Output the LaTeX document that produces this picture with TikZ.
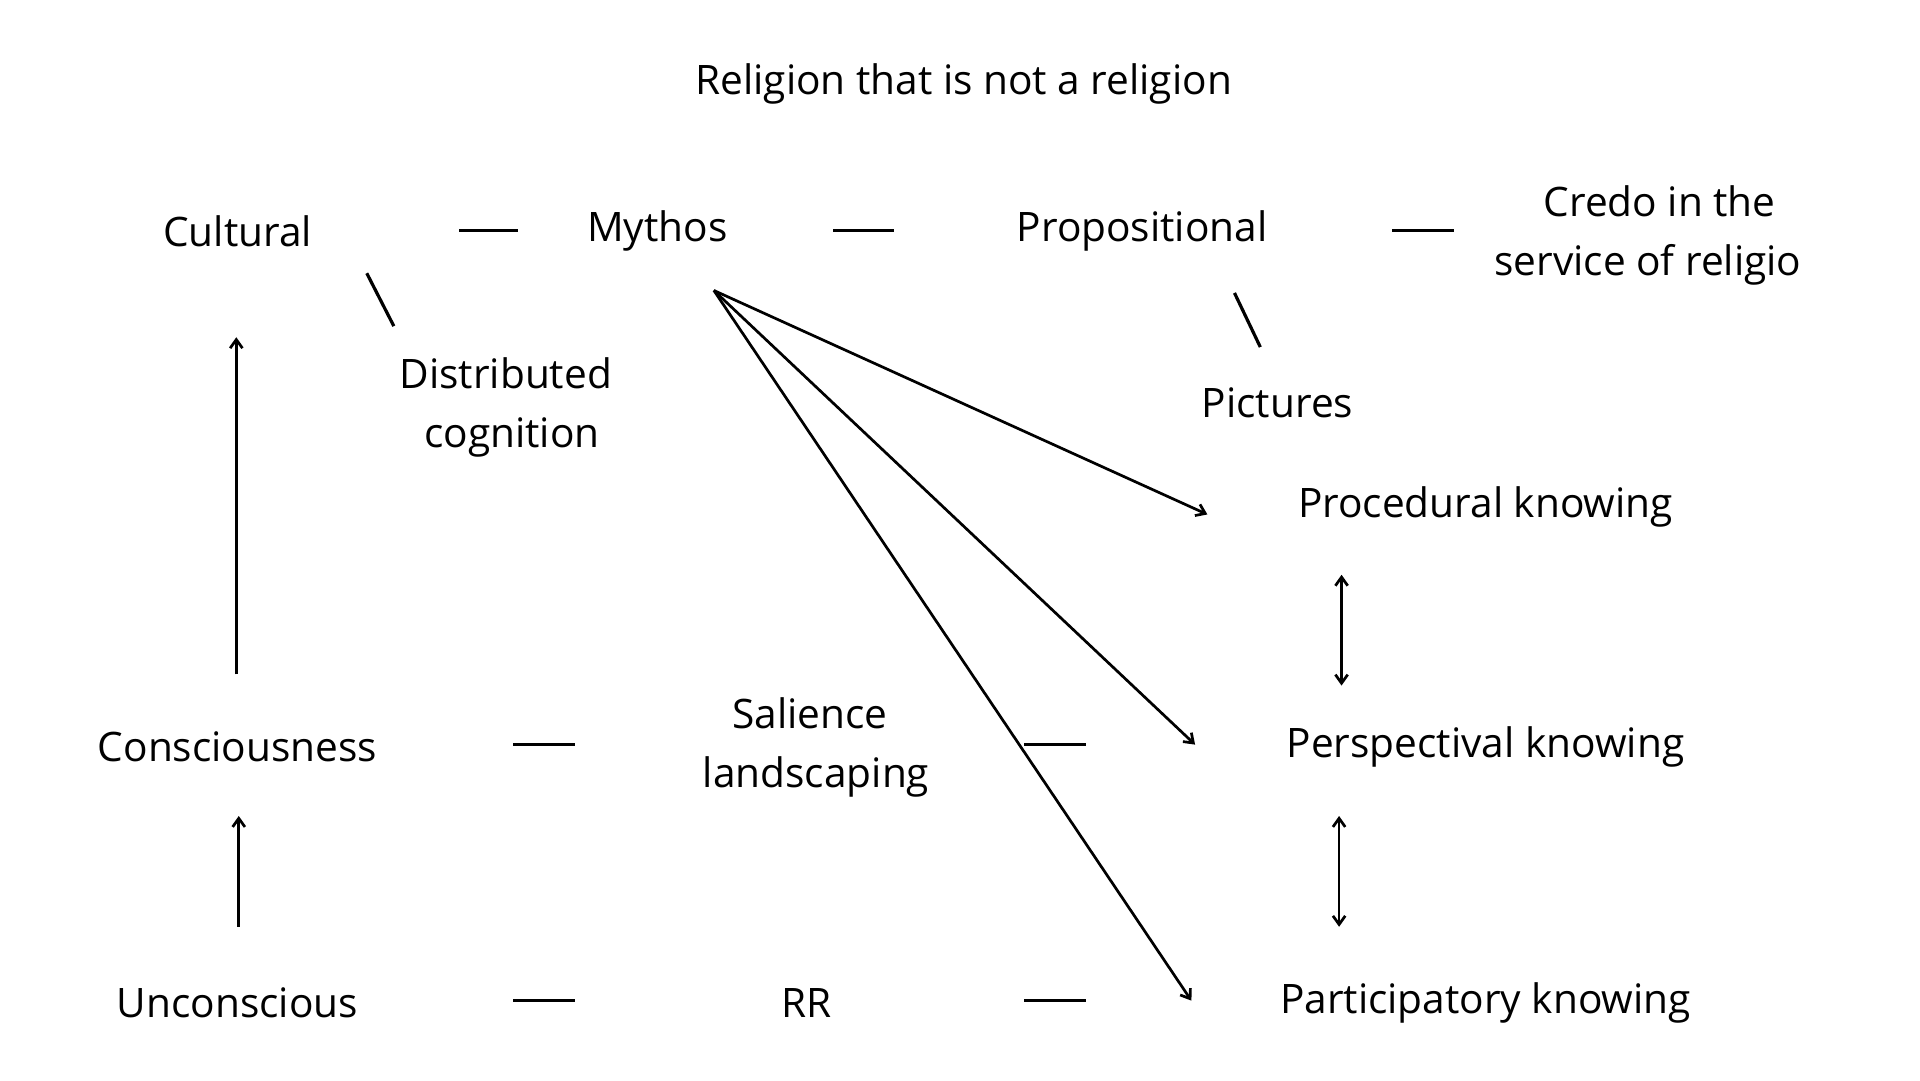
\documentclass[tikz,border=0pt]{standalone}
\usepackage{fontspec}
\setmainfont{Open Sans}
\usetikzlibrary{arrows.meta}
\begin{document}
\begin{tikzpicture}[x=1pt,y=-1pt,
  lbl/.style={font=\fontsize{33}{48}\selectfont,align=center,inner sep=0pt},
  ln/.style={line width=2.6pt},
  ar/.style={line width=2.2pt,-{Straight Barb[length=7pt,width=10pt]}},
  dar/.style={line width=2.2pt,{Straight Barb[length=7pt,width=10pt]}-{Straight Barb[length=7pt,width=10pt]}}]
\useasboundingbox (0,0) rectangle (1560,878);
\fill[white] (0,0) rectangle (1560,878);
\node[lbl] (title) at (783,68) {Religion that is not a religion};
\node[lbl] (cult) at (193,188) {Cultural};
\node[lbl] (myth) at (534,188) {Mythos};
\node[lbl] (prop) at (928,188) {Propositional};
\node[lbl,anchor=west,align=left] (credo) at (1214,191) {\hspace*{40pt}Credo in the\\service of religio};
\node[lbl] (dist) at (411,331) {Distributed\\\hspace*{10pt}cognition};
\node[lbl] (pict) at (1038,327) {Pictures};
\node[lbl] (proc) at (1207,412) {Procedural knowing};
\node[lbl] (persp) at (1207,607) {Perspectival knowing};
\node[lbl] (part) at (1207,815) {Participatory knowing};
\node[lbl] (cons) at (193,607) {Consciousness};
\node[lbl] (sal) at (658,607) {Salience\\\hspace*{10pt}landscaping};
\node[lbl] (unc) at (193,815) {Unconscious};
\node[lbl] (rr) at (655,815) {RR};
% dashes
\foreach \n/\a/\b/\y in {d1/373/421/187,d2/677/726/187,d3/1131/1181/187,d4/417/467/605,d5/832/882/605,d6/417/467/813,d7/832/882/813}{
  \coordinate (\n a) at (\a,\y); \coordinate (\n b) at (\b,\y);
  \draw[ln] (\n a) -- (\n b);}
\coordinate (s1a) at (298,222); \coordinate (s1b) at (320,265);
\coordinate (s2a) at (1003,238); \coordinate (s2b) at (1024,282);
\draw[ln] (s1a) -- (s1b);
\draw[ln] (s2a) -- (s2b);
\coordinate (mo) at (580,236);
\coordinate (t1) at (981,418);
\coordinate (t2) at (971,605);
\coordinate (t3) at (968,813);
\draw[ar] (mo) -- (t1);
\draw[ar] (mo) -- (t2);
\draw[ar] (mo) -- (t3);
\coordinate (u1) at (192,548); \coordinate (u2) at (192,274);
\coordinate (u3) at (194,753); \coordinate (u4) at (194,663);
\draw[ar] (u1) -- (u2);
\draw[ar] (u3) -- (u4);
\coordinate (v1) at (1090,467); \coordinate (v2) at (1090,557);
\coordinate (v3) at (1088,663); \coordinate (v4) at (1088,753);
\draw[dar] (v1) -- (v2);
\draw[dar] (v3) -- (v4);
\end{tikzpicture}
\end{document}
